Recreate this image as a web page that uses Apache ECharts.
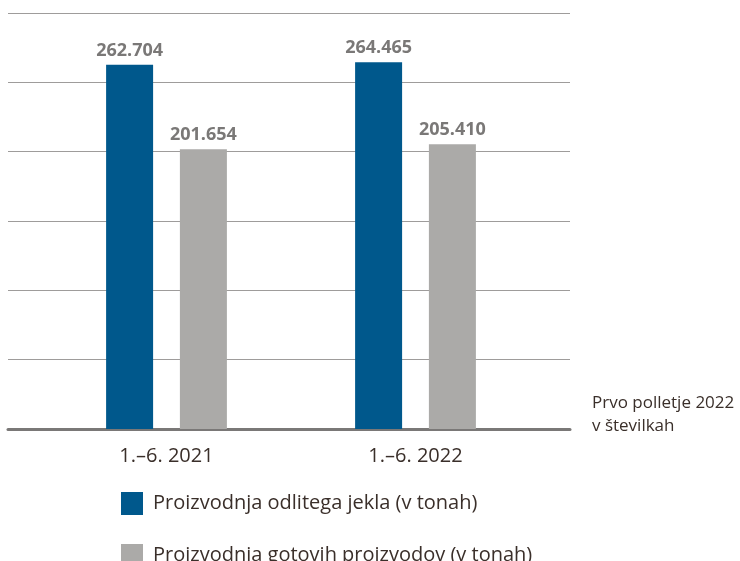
<!DOCTYPE html>
<html>
<head>
<meta charset="utf-8">
<script src="https://cdn.jsdelivr.net/npm/echarts@6/dist/echarts.min.js"></script>
<style>
	html, body { margin: 0; padding: 0; background: #fff; }
	#main { width: 740px; height: 561px; }
</style>
</head>
<body>
<div id="main"></div>
<script>
	// podatki
	var categories = ['1.–6. 2021', '1.–6. 2022'];
	var jeklo = [262704, 264465];
	var izdelki = [201654, 205410];
	var seriesNames = ['Proizvodnja odlitega jekla (v tonah)', 'Proizvodnja gotovih proizvodov (v tonah)'];

	var font = '"Open Sans", "Noto Sans", sans-serif';

	function fmt(v) {
		return String(v).replace(/\B(?=(\d{3})+(?!\d))/g, '.');
	}

	var chart = echarts.init(document.getElementById('main'));

	var barLabel = {
		show: true,
		position: 'top',
		distance: 5,
		color: '#7a7877',
		fontFamily: font,
		fontWeight: 'bold',
		fontSize: 18,
		formatter: function (p) { return fmt(p.value); }
	};

	// ena legenda na postavko, da se ne prelomi v stolpce
	function legendItem(name, top) {
		return {
			orient: 'vertical',
			left: 116,
			top: top,
			icon: 'rect',
			itemWidth: 22,
			itemHeight: 23,
			data: [name],
			textStyle: {
				color: '#3a2f2a',
				fontSize: 20,
				fontFamily: font,
				padding: [0, 0, 0, 5]
			}
		};
	}

	chart.setOption({
		backgroundColor: '#fff',
		animation: false,
		textStyle: { fontFamily: font },
		legend: [
			legendItem(seriesNames[0], 487),
			legendItem(seriesNames[1], 539)
		],
		grid: [
			{ left: 8, right: 170, top: 13, bottom: 132 },
			{ left: 42, right: 200, top: 13, bottom: 132 }
		],
		xAxis: [
			{
				type: 'category',
				gridIndex: 0,
				data: [''],
				axisLine: { show: true, lineStyle: { color: '#7a7877', width: 3 } },
				axisTick: { show: false },
				axisLabel: { show: false }
			},
			{
				type: 'category',
				gridIndex: 1,
				data: categories,
				axisLine: { show: false },
				axisTick: { show: false },
				axisLabel: {
					color: '#3a2f2a',
					fontSize: 20,
					fontFamily: font,
					margin: 17
				}
			}
		],
		yAxis: [
			{
				type: 'value',
				gridIndex: 0,
				min: 0,
				max: 300000,
				interval: 50000,
				axisLine: { show: false },
				axisTick: { show: false },
				axisLabel: { show: false },
				splitLine: { lineStyle: { color: '#9e9c9b', width: 1 } }
			},
			{
				type: 'value',
				gridIndex: 1,
				min: 0,
				max: 300000,
				interval: 50000,
				axisLine: { show: false },
				axisTick: { show: false },
				axisLabel: { show: false },
				splitLine: { show: false }
			}
		],
		series: [
			{
				name: seriesNames[0],
				type: 'bar',
				xAxisIndex: 1,
				yAxisIndex: 1,
				barWidth: 47,
				barGap: '57%',
				itemStyle: { color: '#00588c' },
				label: barLabel,
				data: jeklo
			},
			{
				name: seriesNames[1],
				type: 'bar',
				xAxisIndex: 1,
				yAxisIndex: 1,
				barWidth: 47,
				itemStyle: { color: '#abaaa8' },
				label: barLabel,
				data: izdelki
			}
		],
		graphic: [
			{
				type: 'text',
				left: 592,
				top: 392,
				style: {
					text: 'Prvo polletje 2022\nv številkah',
					fill: '#3a2f2a',
					font: '17px ' + font,
					lineHeight: 23
				}
			}
		]
	});
</script>
</body>
</html>
